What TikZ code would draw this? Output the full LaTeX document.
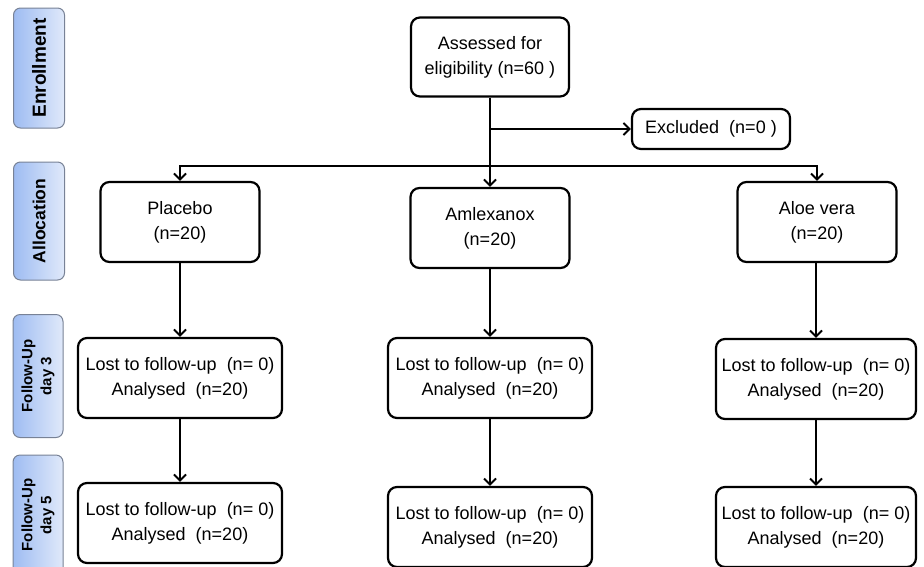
\documentclass[tikz,border=0pt]{standalone}
\usepackage{fontspec}
\setmainfont{Liberation Sans}
\usetikzlibrary{arrows.meta,positioning}
\definecolor{ink}{RGB}{0,0,0}
\definecolor{stagetop}{RGB}{224,233,250}
\definecolor{stagebot}{RGB}{158,188,242}
\definecolor{stageline}{RGB}{120,130,150}
\tikzset{
  every picture/.style={x=1pt, y=-1pt, color=ink, line width=2pt},
  box/.style={draw=ink, line width=2.2pt, rounded corners=9pt, fill=white, inner sep=0pt, align=center, font=\fontsize{18}{25}\selectfont},
  arm/.style={box, minimum width=159pt, minimum height=80pt},
  lost/.style={box, minimum width=204pt, minimum height=80pt},
  stage/.style={draw=stageline, line width=1pt, rounded corners=7pt, left color=stagebot, right color=stagetop, rotate=90, inner sep=0pt, minimum width=120pt, minimum height=51pt, align=center, font=\bfseries\fontsize{15}{19}\selectfont},
  flow/.style={-{Straight Barb[length=6pt,width=12pt]}, line width=2pt},
}

\begin{document}
\begin{tikzpicture}
  \clip (0,0) rectangle (924,566);
  % stage labels
  \node[stage, font=\bfseries\fontsize{19}{22}\selectfont] (enrol) at (39,68) {Enrollment};
  \node[stage, minimum width=118pt, font=\bfseries\fontsize{17.5}{22}\selectfont] (alloc) at (39,221) {Allocation};
  \node[stage, minimum width=123pt, minimum height=50pt] (fu3) at (38,376) {Follow-Up\\day 3};
  \node[stage, minimum height=50pt] (fu5) at (38,515) {Follow-Up\\day 5};
  % enrollment
  \node[box, minimum width=158pt, minimum height=79pt] (assess) at (490,57) {Assessed for\\eligibility (n=60 )};
  \node[box, minimum width=158pt, minimum height=40pt] (excl) at (711,129) {Excluded \ (n=0 )};
  % allocation
  \node[arm] (plac) at (180,222) {Placebo\\(n=20)};
  \node[arm] (amlx) at (490,228) {Amlexanox\\(n=20)};
  \node[arm] (aloe) at (817,222) {Aloe vera\\(n=20)};
  % follow-up
  \node[lost] (plac3) at (180,378) {Lost to follow-up \ (n= 0)\\Analysed \ (n=20)};
  \node[lost] (amlx3) at (490,378) {Lost to follow-up \ (n= 0)\\Analysed \ (n=20)};
  \node[lost, minimum width=200pt] (aloe3) at (816,379) {Lost to follow-up \ (n= 0)\\Analysed \ (n=20)};
  \node[lost] (plac5) at (180,523) {Lost to follow-up \ (n= 0)\\Analysed \ (n=20)};
  \node[lost] (amlx5) at (490,527) {Lost to follow-up \ (n= 0)\\Analysed \ (n=20)};
  \node[lost, minimum width=200pt] (aloe5) at (816,527) {Lost to follow-up \ (n= 0)\\Analysed \ (n=20)};
  % connectors
  \coordinate (fork) at (490,166);
  \draw[flow] (assess) -- (amlx);
  \draw[flow] (assess.south |- excl) -- (excl);
  \draw[flow] (fork) -| (plac);
  \draw[flow] (fork) -| (aloe);
  \draw[flow] (plac) -- (plac3);
  \draw[flow] (amlx) -- (amlx3);
  \draw[flow] (aloe3.north |- aloe.south) -- (aloe3);
  \draw[flow] (plac3) -- (plac5);
  \draw[flow] (amlx3) -- (amlx5);
  \draw[flow] (aloe3) -- (aloe5);
\end{tikzpicture}
\end{document}
